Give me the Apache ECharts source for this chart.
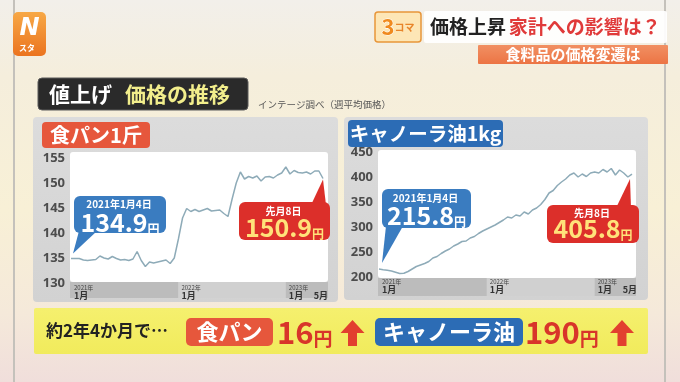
<!DOCTYPE html>
<html><head><meta charset="utf-8">
<script src="https://cdn.jsdelivr.net/npm/echarts@6/dist/echarts.min.js"></script>
<style>html,body{margin:0;padding:0;background:#f6efdd;}#c{width:680px;height:382px;}</style>
</head><body><div id="c"></div>
<script>
// ---- data (weeks since 2021-01-04, sampled every 2 weeks) ----
const weeks = [0,2,4,6,8,10,12,14,16,18,20,22,24,26,28,30,32,34,36,38,40,42,44,46,48,50,52,54,56,58,60,62,64,66,68,70,72,74,76,78,80,82,84,86,88,90,92,94,96,98,100,102,104,106,108,110,112,114,116,118,120,122];
const breadPrices = [134.9,134.9,134.9,134.6,134.5,134.6,134.7,135.4,135.0,134.8,135.3,134.9,134.6,134.7,134.5,134.8,136.3,134.5,133.3,134.2,134.0,134.2,134.4,134.6,133.9,135.0,138.8,143.0,144.9,144.3,144.7,144.3,144.6,144.9,144.4,144.5,144.6,143.9,143.3,146.8,150.0,152.2,150.8,151.3,151.0,151.4,150.4,151.2,151.3,151.0,151.6,152.0,153.2,151.8,152.5,152.1,152.0,152.2,151.8,152.4,152.4,150.9];
const canolaPrices = [215.8,214.5,213.5,212,209.5,207,207.5,211,216,221,224,227,231,238,241,247,252,256,262,266,271,272,278,281,287,292,296,300,304,309,314,320,318,324,322,330,326,334,338,345,355,368,373,383,390,396,404,408,400,406,401,408,410,408,415,410,417,404,414,408,400,405.8];
const breadAxis = {min:130, max:155, interval:5};
const canolaAxis = {min:200, max:450, interval:50};
const yearTickWeeks = [0,52,104];
const yearTickLabels = [['2021年','1月'],['2022年','1月'],['2023年','1月']];
const mayTickWeeks = [121];
const mayTickLabel = '5月';
const breadStart = {date:'2021年1月4日', value:'134.9'};
const breadEnd = {date:'先月8日', value:'150.9'};
const canolaStart = {date:'2021年1月4日', value:'215.8'};
const canolaEnd = {date:'先月8日', value:'405.8'};

const JP = '"Noto Sans CJK JP","Noto Sans",sans-serif';
const chart = echarts.init(document.getElementById('c'));

function yearLabel(v){const i=yearTickWeeks.indexOf(v);return i<0?'':'{a|'+yearTickLabels[i][0]+'}\n{b|'+yearTickLabels[i][1]+'}';}
const richX = {a:{fontSize:6,lineHeight:7,color:'#444',fontFamily:JP},b:{fontSize:9,lineHeight:10,fontWeight:'bold',color:'#333',fontFamily:JP}};
function xAxes(grid){
  const base = {type:'value',gridIndex:grid,min:0,max:122,position:'bottom',axisLine:{show:false},axisTick:{show:false},splitLine:{show:false}};
  return [
    Object.assign({},base,{axisLabel:{customValues:yearTickWeeks,formatter:yearLabel,align:'left',margin:1,padding:[0,0,0,3],rich:richX}}),
    Object.assign({},base,{axisLabel:{customValues:mayTickWeeks,formatter:()=>'{a| }\n{b|'+mayTickLabel+'}',align:'center',margin:1,rich:richX}})
  ];
}
function yAx(grid,r){
  return {type:'value',gridIndex:grid,min:r.min,max:r.max,interval:r.interval,axisLine:{show:false},axisTick:{show:false},splitLine:{show:false},
    axisLabel:{margin:6,fontSize:13,fontWeight:'bold',color:'#4d4d4d',fontFamily:'"Noto Sans",sans-serif'}};
}
const lineStyle = {color:'#8eabb8',width:1.5};
chart.setOption({
  animation:false,
  grid:[{left:71,top:158,width:252,height:125},{left:379,top:152,width:253,height:125}],
  xAxis:[...xAxes(0),...xAxes(1)],
  yAxis:[yAx(0,breadAxis),yAx(1,canolaAxis)],
  series:[
    {type:'line',xAxisIndex:0,yAxisIndex:0,data:weeks.map((w,i)=>[w,breadPrices[i]]),showSymbol:false,lineStyle,z:5,silent:true},
    {type:'line',xAxisIndex:2,yAxisIndex:1,data:weeks.map((w,i)=>[w,canolaPrices[i]]),showSymbol:false,lineStyle,z:5,silent:true}
  ]
});

const pb = (w,v)=>chart.convertToPixel({xAxisIndex:0,yAxisIndex:0},[w,v]);
const pc = (w,v)=>chart.convertToPixel({xAxisIndex:2,yAxisIndex:1},[w,v]);
const g = [];
const R = (x,y,w,h,fill,z,r,extra)=>g.push(Object.assign({type:'rect',shape:{x,y,width:w,height:h,r:r||0},style:{fill},z:z,silent:true},extra||{}));
const T = (x,y,text,style,z)=>g.push({type:'text',x:0,y:0,style:Object.assign({x,y,text,fontFamily:JP,align:'center',verticalAlign:'middle'},style),z:z||20,silent:true});
const lin = (stops)=>({type:'linear',x:0,y:0,x2:0,y2:1,colorStops:stops.map((c,i)=>({offset:c[0],color:c[1]}))});

// background
R(0,0,680,382,lin([[0,'#f2efea'],[0.2,'#f5eedc'],[0.55,'#f8f0d6'],[0.82,'#f5e9da'],[1,'#f0dedb']]),-30);
R(13,0,2,382,'#c4c1bb',-29); R(664,0,2,382,'#c4c1bb',-29);
// logo
R(13,12,33,44,lin([[0,'#f7a846'],[1,'#eb7420']]),-28,5);
T(29.5,29,'N',{fill:'#fff',fontSize:24,fontWeight:'bold',fontStyle:'italic',fontFamily:'"DejaVu Sans",sans-serif'});
T(27,48,'スタ',{fill:'#fff',fontSize:8,fontWeight:'bold'});
// badge & title
R(375,12,46,30,'#fde6b6',-28,3,{style:{fill:'#fde6b6',stroke:'#e8963a',lineWidth:1.5}});
T(398,27,'{t|3}{k|コマ}',{rich:{t:{fontSize:22,fontWeight:'bold',fill:'#f08a1e',fontFamily:JP,stroke:'#fff',lineWidth:1},k:{fontSize:10,fontWeight:'bold',fill:'#e8852a',fontFamily:JP}}});
R(424,11,243,32,'rgba(255,255,255,0.92)',-28,2);
T(430,27,'{k|価格上昇} {r|家計への影響は？}',{align:'left',rich:{k:{fontSize:19,fontWeight:'bold',fill:'#222',fontFamily:JP},r:{fontSize:19,fontWeight:'bold',fill:'#e03a3a',fontFamily:JP}}});
R(478,45,190,19,lin([[0,'#f19063'],[1,'#ec7444']]),-28,1);
T(573,54.5,'食料品の価格変遷は',{fill:'#fff',fontSize:15,fontWeight:'bold'});
// section heading
R(38,78,210,32,'#2a2a2a',-28,4,{style:{fill:'#2a2a2a',stroke:'#5a5a5a',lineWidth:1}});
T(49,94,'値上げ',{align:'left',fill:'#fff',fontSize:21,fontWeight:'bold'});
T(125,94,'価格の推移',{align:'left',fill:'#f2ee8c',fontSize:21,fontWeight:'bold'});
T(258,104,'インテージ調べ（週平均価格）',{align:'left',fill:'#555',fontSize:9.5});

// panels
R(33,117,305,185,lin([[0,'#dcdcdc'],[1,'#d2d2d2']]),-25,4);
R(344,117,304,183,lin([[0,'#dcdcdc'],[1,'#d2d2d2']]),-25,4);
R(42,122,108,26,'#e6573c',-20,4);
T(96,135,'食パン1斤',{fill:'#fff',fontSize:20,fontWeight:'bold'});
R(348,120,155,27,'#2c6cb5',-20,4);
T(425.5,133.5,'キャノーラ油1kg',{fill:'#fff',fontSize:19.5,fontWeight:'bold'});
R(70,152,258,130,'#ffffff',-20,3);
R(378,150,258,128,'#ffffff',-20,3);
// x bands
function bands(px,y,h,x0,x1){
  const a=px(52,0)[0], b=px(104,0)[0];
  R(x0,y,a-x0,h,'#bcbcbc',-15); R(a,y,b-a,h,'#d0d0d0',-15); R(b,y,x1-b,h,'#bcbcbc',-15);
}
bands(pb,282,16,70,328);
bands(pc,278,18,378,636);

// bubbles
function bubble(x,y,w,h,color,tail,info,numColor,topY,numY){
  g.push({type:'polygon',shape:{points:tail},style:{fill:color},z:30,silent:true});
  R(x,y,w,h,color,30,6);
  T(x+w/2-1,topY,info.date,{fill:'#fff',fontSize:10,fontWeight:'bold'},31);
  T(x+w/2,numY,'{n|'+info.value+'}{u|円}',{rich:{n:{fontSize:25,fontWeight:'bold',fill:numColor,fontFamily:JP,lineHeight:26,verticalAlign:'bottom'},u:{fontSize:12,fontWeight:'bold',fill:numColor,fontFamily:JP,lineHeight:20,verticalAlign:'bottom'}}},31);
}
const bs = pb(weeks[0],breadPrices[0]), be = pb(weeks[weeks.length-1],breadPrices[breadPrices.length-1]);
const cs = pc(weeks[0],canolaPrices[0]), ce = pc(weeks[weeks.length-1],canolaPrices[canolaPrices.length-1]);
bubble(74,196,92,37,'#3a7cc0',[[79,231],[97,231],[bs[0]+2,bs[1]-5]],breadStart,'#fff',204,222);
bubble(239,202,91,38,'#dc2f2a',[[311,205],[326,205],[be[0],be[1]+1]],breadEnd,'#ffe27a',211,227);
bubble(382,189,89,39,'#3a7cc0',[[386,226],[403,226],[cs[0]+3,cs[1]-6]],canolaStart,'#fff',198,215);
bubble(547,205,92,38,'#dc2f2a',[[616,208],[631,208],[ce[0]-2,ce[1]+5]],canolaEnd,'#ffe27a',213.5,228);

// bottom summary banner
R(34,308,614,46,lin([[0,'#f5f06e'],[1,'#f1eb5c']]),-20,2);
T(46,331,'約2年4か月で…',{align:'left',fill:'#222',fontSize:17,fontWeight:'bold'});
R(186,318,87,28,'#e6573c',-10,5);
T(229.5,332,'食パン',{fill:'#fff',fontSize:22,fontWeight:'bold'});
T(277,332,'{n|16}{u|円}',{align:'left',rich:{n:{fontSize:31,fontWeight:'bold',fill:'#d8352a',fontFamily:JP,lineHeight:32,verticalAlign:'bottom'},u:{fontSize:19,fontWeight:'bold',fill:'#d8352a',fontFamily:JP,lineHeight:26,verticalAlign:'bottom'}}});
function arrow(cx){g.push({type:'polygon',shape:{points:[[cx,320],[cx+12,333],[cx+4.5,333],[cx+4.5,346],[cx-4.5,346],[cx-4.5,333],[cx-12,333]]},style:{fill:'#e2402f'},z:20,silent:true});}
arrow(352.5);
R(375,318,148,28,'#2c6cb5',-10,5);
T(449,332,'キャノーラ油',{fill:'#fff',fontSize:22,fontWeight:'bold'});
T(525,332,'{n|190}{u|円}',{align:'left',rich:{n:{fontSize:31,fontWeight:'bold',fill:'#d8352a',fontFamily:JP,lineHeight:32,verticalAlign:'bottom'},u:{fontSize:19,fontWeight:'bold',fill:'#d8352a',fontFamily:JP,lineHeight:26,verticalAlign:'bottom'}}});
arrow(622);

chart.setOption({graphic:{elements:g}});
</script></body></html>
